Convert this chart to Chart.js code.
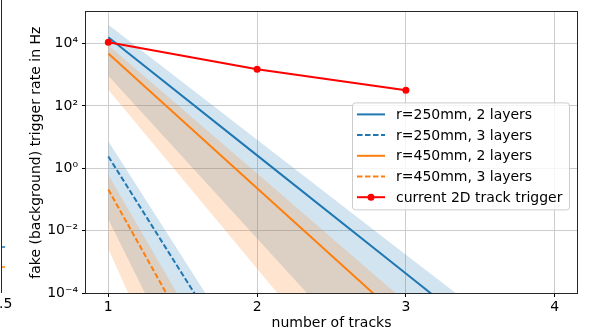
<!DOCTYPE html>
<html>
<head>
<meta charset="utf-8">
<script src="https://cdn.jsdelivr.net/npm/chart.js@4.4.0/dist/chart.umd.min.js"></script>
<style>
  html, body { margin: 0; padding: 0; background: #fff; }
  #wrap { width: 590px; height: 330px; }
</style>
</head>
<body>
<div id="wrap"><canvas id="rateChart" width="590" height="330"></canvas></div>
<script>
// number of tracks (x) and tick values
var tracks = [1, 2, 3, 4];
var tracksShort = [1, 2];
var triggerTracks = [1, 2, 3];
var xTicks = [1, 2, 3, 4];
var yTicks = [1e-4, 1e-2, 1, 1e2, 1e4];

// fake trigger rate in Hz (central value + band edges)
var r250two = [1.6e4, 2.6, 4.2e-4, 6.8e-8];
var r250twoHigh = [4.0e4, 8.3, 1.7e-3, 3.6e-7];
var r250twoLow = [9.3e2, 5.6e-3, 3.4e-8, 2.0e-13];
var r450two = [4.8e3, 0.23, 1.1e-5, 5.6e-10];
var r450twoHigh = [8.9e3, 0.68, 5.1e-5, 3.9e-9];
var r450twoLow = [3.3e2, 6.0e-4, 1.1e-9, 2.0e-15];
var r250three = [2.4, 6.2e-8];
var r250threeHigh = [7.4, 2.5e-7];
var r250threeLow = [2.3e-2, 5.5e-12];
var r450three = [0.21, 5.9e-10];
var r450threeHigh = [0.61, 3.7e-9];
var r450threeLow = [2.6e-3, 6.3e-14];
var currentTrigger = [1.1e4, 1.5e3, 3.2e2];

var labels = ['r=250mm, 2 layers', 'r=250mm, 3 layers', 'r=450mm, 2 layers', 'r=450mm, 3 layers', 'current 2D track trigger'];

var fontFamily = '"DejaVu Sans", sans-serif';
var blue = '#1f77b4';
var orange = '#ff7f0e';
var blueBand = 'rgba(31,119,180,0.2)';
var orangeBand = 'rgba(255,127,14,0.2)';
var gridColor = '#cccccc';

function pts(xs, ys) {
    return ys.map(function (y, i) { return { x: xs[i], y: y }; });
}

// upper edge fills down to the next dataset (lower edge)
function band(xs, ys, color, isUpper) {
    return {
        data: pts(xs, ys),
        fill: isUpper ? '+1' : false,
        backgroundColor: color,
        borderColor: 'rgba(0,0,0,0)',
        borderWidth: 0,
        pointRadius: 0,
        order: 1,
        clip: 0,
        inLegend: false
    };
}

function line(xs, ys, label, color, dash) {
    return {
        label: label,
        data: pts(xs, ys),
        borderColor: color,
        backgroundColor: color,
        borderWidth: 2,
        borderDash: dash || [],
        pointRadius: 0,
        fill: false,
        order: 0,
        clip: 0,
        inLegend: true
    };
}

var supMap = { '-': '\u207B', '0': '\u2070', '1': '\u00B9', '2': '\u00B2', '3': '\u00B3', '4': '\u2074', '5': '\u2075' };
function powerLabel(v) {
    var e = String(Math.round(Math.log10(v)));
    return '10' + e.split('').map(function (c) { return supMap[c]; }).join('');
}

// frame around the axes like matplotlib spines
var framePlugin = {
    id: 'frame',
    afterDatasetsDraw: function (chart) {
        var ctx = chart.ctx, a = chart.chartArea;
        ctx.save();
        ctx.strokeStyle = '#262626';
        ctx.lineWidth = 1;
        ctx.strokeRect(Math.round(a.left) - 0.5, Math.round(a.top) - 0.5, Math.round(a.right - a.left) + 1, Math.round(a.bottom - a.top) + 1);
        ctx.restore();
    }
};

// legend box inside the axes, right side
var boxLegend = {
    id: 'boxLegend',
    afterDraw: function (chart) {
        var ctx = chart.ctx, a = chart.chartArea;
        var items = chart.data.datasets.filter(function (d) { return d.inLegend; });
        var w = 217, h = 107, rowH = 20.7;
        var x0 = a.right - 8 - w, y0 = a.top + 90;
        ctx.save();
        ctx.beginPath();
        ctx.roundRect(x0 + 0.5, y0 + 0.5, w, h, 3);
        ctx.fillStyle = 'rgba(255,255,255,0.8)';
        ctx.fill();
        ctx.strokeStyle = '#cccccc';
        ctx.lineWidth = 1;
        ctx.stroke();
        ctx.font = '14px ' + fontFamily;
        ctx.textBaseline = 'middle';
        items.forEach(function (d, i) {
            var y = y0 + 12 + i * rowH;
            ctx.beginPath();
            ctx.setLineDash(d.borderDash || []);
            ctx.strokeStyle = d.borderColor;
            ctx.lineWidth = 2;
            ctx.moveTo(x0 + 5, y);
            ctx.lineTo(x0 + 33, y);
            ctx.stroke();
            ctx.setLineDash([]);
            if (d.pointRadius > 0) {
                ctx.beginPath();
                ctx.fillStyle = d.pointBackgroundColor;
                ctx.arc(x0 + 19, y, d.pointRadius, 0, Math.PI * 2);
                ctx.fill();
            }
            ctx.fillStyle = '#000';
            ctx.fillText(d.label, x0 + 44, y + 1);
        });
        ctx.restore();
    }
};

// edge of the neighbouring subplot that was cut off on the left
var leftEdge = {
    id: 'leftEdge',
    afterDraw: function (chart) {
        var ctx = chart.ctx, a = chart.chartArea;
        ctx.save();
        ctx.strokeStyle = '#262626';
        ctx.lineWidth = 1;
        ctx.beginPath();
        ctx.moveTo(1.5, 0);
        ctx.lineTo(1.5, a.bottom);
        ctx.stroke();
        ctx.lineWidth = 1.5;
        ctx.strokeStyle = blue;
        ctx.beginPath(); ctx.moveTo(2, 247); ctx.lineTo(5, 247); ctx.stroke();
        ctx.strokeStyle = orange;
        ctx.beginPath(); ctx.moveTo(2, 267); ctx.lineTo(5, 267); ctx.stroke();
        ctx.fillStyle = '#000';
        ctx.font = '14px ' + fontFamily;
        ctx.textBaseline = 'middle';
        ctx.fillText('.5', -1, 304);
        ctx.restore();
    }
};

// orange bands first in the list so they end up painted over the blue ones
var datasets = [
    band(tracks, r450twoHigh, orangeBand, true),
    band(tracks, r450twoLow, orangeBand, false),
    band(tracksShort, r450threeHigh, orangeBand, true),
    band(tracksShort, r450threeLow, orangeBand, false),
    band(tracks, r250twoHigh, blueBand, true),
    band(tracks, r250twoLow, blueBand, false),
    band(tracksShort, r250threeHigh, blueBand, true),
    band(tracksShort, r250threeLow, blueBand, false),
    line(tracks, r250two, labels[0], blue),
    line(tracksShort, r250three, labels[1], blue, [5.5, 2.5]),
    line(tracks, r450two, labels[2], orange),
    line(tracksShort, r450three, labels[3], orange, [5.5, 2.5])
];

var trig = line(triggerTracks, currentTrigger, labels[4], '#ff0000');
trig.pointRadius = 3.5;
trig.pointBackgroundColor = '#ff0000';
trig.pointBorderWidth = 0;
trig.order = -1;
datasets.push(trig);

var ctx = document.getElementById('rateChart').getContext('2d');
var rateChart = new Chart(ctx, {
    type: 'line',
    data: { datasets: datasets },
    options: {
        responsive: false,
        animation: false,
        devicePixelRatio: 1,
        layout: { padding: { left: 0, right: 13, top: 7, bottom: 0 } },
        plugins: {
            legend: { display: false },
            tooltip: { enabled: false },
            filler: { drawTime: 'beforeDatasetsDraw' }
        },
        scales: {
            x: {
                type: 'linear',
                min: 0.85,
                max: 4.15,
                afterBuildTicks: function (s) { s.ticks = xTicks.map(function (v) { return { value: v }; }); },
                afterFit: function (s) { s.height = 37; },
                grid: { color: gridColor, tickColor: '#000', tickLength: 4, lineWidth: 1 },
                border: { display: false },
                ticks: { font: { family: fontFamily, size: 14 }, color: '#000', padding: 2, maxRotation: 0 },
                title: {
                    display: true, text: 'number of tracks', color: '#000',
                    font: { family: fontFamily, size: 14, lineHeight: 1 },
                    padding: { top: 0, bottom: 0 }
                }
            },
            y: {
                type: 'logarithmic',
                min: 1e-4,
                max: 1e5,
                afterBuildTicks: function (s) { s.ticks = yTicks.map(function (v) { return { value: v }; }); },
                afterFit: function (s) { s.width = 86; },
                grid: { color: gridColor, tickColor: '#000', tickLength: 4, lineWidth: 1 },
                border: { display: false },
                ticks: {
                    font: { family: fontFamily, size: 14 }, color: '#000', padding: 4,
                    callback: function (v) { return powerLabel(v); }
                },
                title: {
                    display: true, text: 'fake (background) trigger rate in Hz', color: '#000',
                    font: { family: fontFamily, size: 14, lineHeight: 1 },
                    padding: { top: 29, bottom: 0 }
                }
            }
        }
    },
    plugins: [framePlugin, boxLegend, leftEdge]
});
</script>
</body>
</html>
